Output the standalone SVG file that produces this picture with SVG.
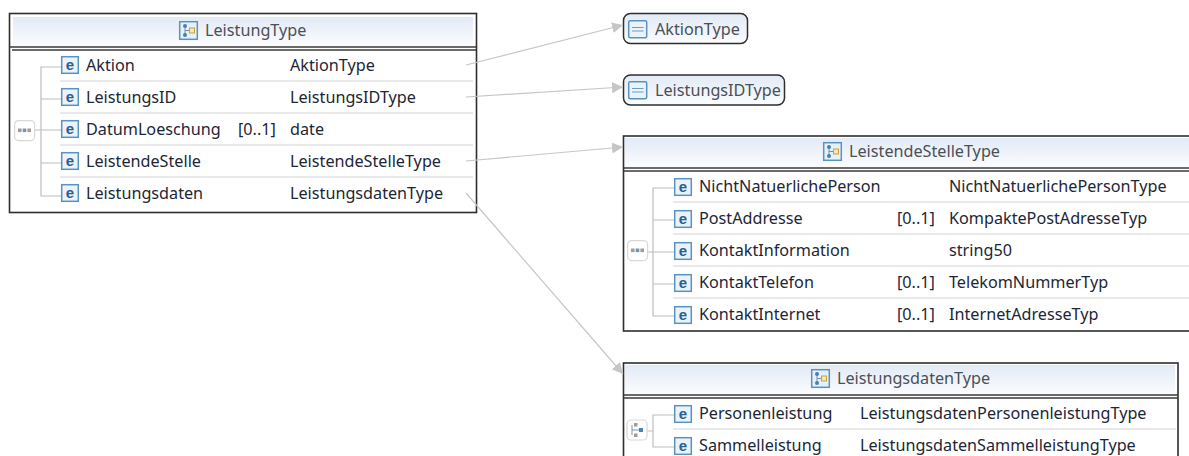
<svg xmlns="http://www.w3.org/2000/svg" width="1189" height="456" viewBox="0 0 1189 456">
<style>
text{font-family:"Noto Sans","Open Sans","Liberation Sans",sans-serif;font-size:16.2px;fill:#1c2636}
.h{fill:#4a5058}
.box{fill:#fff;stroke:#2e2e2e;stroke-width:1.6}
.dbl{stroke:#3a3a3a;stroke-width:1.5;fill:none}
.sep{stroke:#e2e2e2;stroke-width:1.3;fill:none}
.tree{stroke:#bdbdbd;stroke-width:1.2;fill:none}
.conn{stroke:#c6c6c6;stroke-width:1.2;fill:none;marker-end:url(#arr)}
.eb{fill:#eaf3fa;stroke:#5b93c0;stroke-width:1.5}
.et{font-family:"Liberation Sans",sans-serif;font-weight:bold;font-size:15px;fill:#2a5f95;text-anchor:middle}
.cmp{fill:#fff;stroke:#d8d8d8;stroke-width:1.2}
</style>
<defs>
<linearGradient id="hg" x1="0" y1="0" x2="0" y2="1"><stop offset="0" stop-color="#e2eaf6"/><stop offset="1" stop-color="#fbfcfe"/></linearGradient>
<marker id="arr" markerUnits="userSpaceOnUse" markerWidth="12" markerHeight="12" refX="11" refY="5.5" orient="auto"><path d="M0 0L11 5.5L0 11z" fill="#c6c6c6"/></marker>
<g id="e"><rect class="eb" x="0.7" y="0.7" width="16.6" height="16.6"/><text class="et" x="9" y="13.500">e</text></g>
<g id="ct"><rect x="0.7" y="0.7" width="17.6" height="17.6" fill="#e6f0f8" stroke="#5b93c0" stroke-width="1.5"/><path d="M6 5V14M6 9.500H11" fill="none" stroke="#7d8ea3" stroke-width="1"/><circle cx="6" cy="5" r="2" fill="#4a7fb0"/><circle cx="6" cy="14" r="2" fill="#4a7fb0"/><rect x="10.500" y="7" width="5" height="5" fill="#f6e7b0" stroke="#c9a23c" stroke-width="1"/></g>
<g id="st"><rect x="0.7" y="0.7" width="18" height="17" rx="1.5" fill="#eaf3fa" stroke="#5b93c0" stroke-width="1.5"/><path d="M4 7.500H15.500M4 11H15.500" stroke="#6f9cc0" stroke-width="1.2"/></g>
<g id="seq"><rect class="cmp" x="0.6" y="0.6" width="20" height="20" rx="4"/><rect x="4" y="8.500" width="3.600" height="3.600" fill="#a69b94"/><rect x="8.700" y="8.500" width="3.600" height="3.600" fill="#6f97b8"/><rect x="13.400" y="8.500" width="3.600" height="3.600" fill="#a69b94"/></g>
</defs>

<g id="LeistungType">
<rect class="box" x="9.5" y="13.5" width="467" height="199"/>
<rect x="13" y="17" width="460" height="29" fill="url(#hg)"/>
<path class="dbl" d="M10 47H476M12 50H476"/>
<use href="#ct" x="179" y="21"/>
<text class="h" x="205" y="36">LeistungType</text>
<path class="sep" d="M60 81H473M60 113H473M60 145H473M60 177H473"/>
<path class="tree" d="M61 67H41V196H61M41 99H61M35 130H61M41 163H61"/>
<use href="#seq" x="14" y="120"/>
<use href="#e" x="61" y="56"/><text x="86" y="71">Aktion</text><text x="290" y="71">AktionType</text>
<use href="#e" x="61" y="88"/><text x="86" y="103">LeistungsID</text><text x="290" y="103">LeistungsIDType</text>
<use href="#e" x="61" y="120"/><text x="86" y="135">DatumLoeschung</text><text x="238" y="135">[0..1]</text><text x="290" y="135">date</text>
<use href="#e" x="61" y="152"/><text x="86" y="167">LeistendeStelle</text><text x="290" y="167">LeistendeStelleType</text>
<use href="#e" x="61" y="184"/><text x="86" y="199">Leistungsdaten</text><text x="290" y="199">LeistungsdatenType</text>
</g>

<g id="AktionType">
<rect x="623.5" y="13.5" width="124" height="30" rx="7" fill="url(#hg)" stroke="#2e2e2e" stroke-width="1.5"/>
<use href="#st" x="628" y="20"/>
<text class="h" x="655" y="35">AktionType</text>
</g>

<g id="LeistungsIDType">
<rect x="623.5" y="75" width="161" height="30" rx="7" fill="url(#hg)" stroke="#2e2e2e" stroke-width="1.5"/>
<use href="#st" x="628" y="81"/>
<text class="h" x="655" y="96">LeistungsIDType</text>
</g>

<g id="LeistendeStelleType">
<rect class="box" x="623.5" y="136" width="570" height="195"/>
<rect x="625" y="138" width="564" height="29" fill="url(#hg)"/>
<path class="dbl" d="M624 168H1189M624 171H1189"/>
<use href="#ct" x="823" y="142"/>
<text class="h" x="849" y="157">LeistendeStelleType</text>
<path class="sep" d="M673 202H1189M673 234H1189M673 266H1189M673 298H1189"/>
<path class="tree" d="M674 188H653V316H674M653 220H674M647 252H674M653 284H674"/>
<use href="#seq" x="627" y="240"/>
<use href="#e" x="674" y="178"/><text x="699" y="192">NichtNatuerlichePerson</text><text x="949" y="192">NichtNatuerlichePersonType</text>
<use href="#e" x="674" y="210"/><text x="699" y="224">PostAddresse</text><text x="897" y="224">[0..1]</text><text x="949" y="224">KompaktePostAdresseTyp</text>
<use href="#e" x="674" y="242"/><text x="699" y="256">KontaktInformation</text><text x="949" y="256">string50</text>
<use href="#e" x="674" y="274"/><text x="699" y="288">KontaktTelefon</text><text x="897" y="288">[0..1]</text><text x="949" y="288">TelekomNummerTyp</text>
<use href="#e" x="674" y="306"/><text x="699" y="320">KontaktInternet</text><text x="897" y="320">[0..1]</text><text x="949" y="320">InternetAdresseTyp</text>
</g>

<g id="LeistungsdatenType">
<rect class="box" x="623.5" y="363" width="554.5" height="110"/>
<rect x="625" y="365" width="550" height="29" fill="url(#hg)"/>
<path class="dbl" d="M624 395H1178M624 398H1178"/>
<use href="#ct" x="811" y="369"/>
<text class="h" x="837" y="384">LeistungsdatenType</text>
<path class="sep" d="M673 429H1176"/>
<path class="tree" d="M674 415H653V447H674M647 431H653"/>
<rect class="cmp" x="627" y="420" width="20" height="20" rx="4"/>
<path d="M632 425V435M632 430H640" stroke="#6f97b8" stroke-width="1" fill="none"/><rect x="634" y="423" width="3.500" height="3.500" fill="#a69b94"/><rect x="634" y="433.500" width="3.500" height="3.500" fill="#a69b94"/><rect x="639" y="428" width="4" height="4" fill="#4a85b8"/>
<use href="#e" x="674" y="405"/><text x="699" y="419">Personenleistung</text><text x="860" y="419">LeistungsdatenPersonenleistungType</text>
<use href="#e" x="674" y="437"/><text x="699" y="451">Sammelleistung</text><text x="860" y="451">LeistungsdatenSammelleistungType</text>
</g>

<g id="connectors">
<path class="conn" d="M466 65L623 25"/>
<path class="conn" d="M466 97L623 87"/>
<path class="conn" d="M466 161L623 147"/>
<path class="conn" d="M466 193L623 374"/>
</g>
</svg>
